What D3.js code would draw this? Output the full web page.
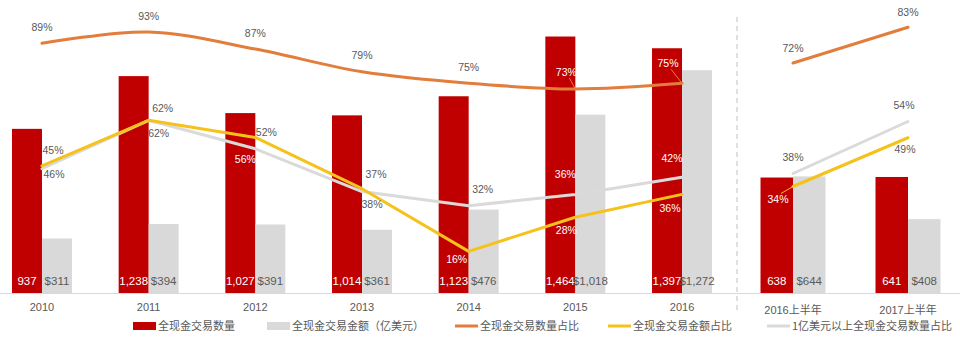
<!DOCTYPE html>
<html>
<head>
<meta charset="utf-8">
<script src="https://cdn.jsdelivr.net/npm/d3@7"></script>
<style>
  html, body { margin: 0; padding: 0; background: #fff; }
  svg { display: block; }
  text { font-family: "Liberation Sans", "Noto Sans CJK SC", sans-serif; }
</style>
</head>
<body>
<svg id="chart" width="960" height="337"></svg>
<script>
// ---- data ----
const yearsFull = ["2010", "2011", "2012", "2013", "2014", "2015", "2016"];
const yearsHalf = ["2016上半年", "2017上半年"];

const dealCountFull = [937, 1238, 1027, 1014, 1123, 1464, 1397];
const dealValueFull = [311, 394, 391, 361, 476, 1018, 1272];
const countShareFull = [89, 93, 87, 79, 75, 73, 75];
const valueShareFull = [46, 62, 56, 38, 16, 28, 36];
const bigDealShareFull = [45, 62, 52, 37, 32, 36, 42];

const dealCountHalf = [638, 641];
const dealValueHalf = [644, 408];
const countShareHalf = [72, 83];
const valueShareHalf = [34, 49];
const bigDealShareHalf = [38, 54];

const legendLabels = ["全现金交易数量", "全现金交易金额（亿美元）", "全现金交易数量占比", "全现金交易金额占比", "1亿美元以上全现金交易数量占比"];

// ---- label nudges (px from the point); third entry draws a leader line ----
const countNudgeFull = [[0,-16],[0,-16],[0,-16],[0,-17],[0,-16],[-9,-17,1],[-14,-20,1]];
const countNudgeHalf = [[0,-15],[0,-15]];
const bigNudgeFull = [[11,-18],[14,-12],[11,-16],[14,-17],[14,-16],[-10,-20],[-10,-19]];
const bigNudgeHalf = [[0,-16],[-4,-16]];
const valueNudgeFull = [[12,8],[10,13],[-10,22],[10,16],[-12,8],[-9,13],[-12,14]];
const valueNudgeHalf = [[-15,13,1],[-3,12]];

// ---- styling ----
const RED = "#C00000", GREY_BAR = "#D9D9D9", ORANGE = "#E27D3C", YELLOW = "#F5C21B", GREY_LINE = "#DADADA";
const TEXT = "#595959";
const baseY = 293;

const svg = d3.select("#chart");

function drawPanel(cfg) {
  const x = d3.scaleBand().domain(cfg.cats).range(cfg.xRange)
    .paddingInner(cfg.pad).paddingOuter(cfg.pad / 2);
  const yBar = d3.scaleLinear().domain([0, 1600]).range([baseY, cfg.barTop]);
  const yPct = d3.scaleLinear().domain([0, 100]).range([cfg.pctBase, cfg.pctTop]);
  const bw = x.bandwidth() / 2;
  const cx = c => x(c) + bw;
  const g = svg.append("g");

  // category axis
  const ax = g.append("g").attr("transform", `translate(0,${baseY})`)
    .call(d3.axisBottom(x).tickSize(0));
  ax.select(".domain").attr("stroke", "#D9D9D9");
  ax.selectAll("text").attr("y", cfg.tickY).attr("dy", "0.35em")
    .attr("fill", TEXT).style("font-size", "11px")
    .style("font-family", '"Liberation Sans", "Noto Sans CJK SC", sans-serif');

  // bars: deal count (red) and deal value (grey)
  g.selectAll(".rb").data(cfg.cats).join("rect")
    .attr("x", d => x(d)).attr("width", bw)
    .attr("y", (d, i) => yBar(cfg.count[i])).attr("height", (d, i) => baseY - yBar(cfg.count[i]))
    .attr("fill", RED);
  g.selectAll(".gb").data(cfg.cats).join("rect")
    .attr("x", d => x(d) + bw).attr("width", bw)
    .attr("y", (d, i) => yBar(cfg.value[i])).attr("height", (d, i) => baseY - yBar(cfg.value[i]))
    .attr("fill", GREY_BAR);

  // bar values along the bottom
  const fmt = d3.format(",");
  g.selectAll(".rv").data(cfg.cats).join("text")
    .attr("x", d => x(d) + bw / 2).attr("y", 281).attr("dy", "0.35em")
    .attr("text-anchor", "middle").attr("fill", "#fff").style("font-size", "11.5px")
    .text((d, i) => fmt(cfg.count[i]));
  g.selectAll(".gv").data(cfg.cats).join("text")
    .attr("x", d => x(d) + bw * 1.5).attr("y", 281).attr("dy", "0.35em")
    .attr("text-anchor", "middle").attr("fill", TEXT).style("font-size", "11.5px")
    .text((d, i) => "$" + fmt(cfg.value[i]));

  // share lines
  const series = [
    { vals: cfg.big, color: GREY_LINE, nudge: cfg.bigNudge, curve: d3.curveLinear },
    { vals: cfg.share, color: YELLOW, nudge: cfg.valueNudge, curve: d3.curveLinear },
    { vals: cfg.countShare, color: ORANGE, nudge: cfg.countNudge, curve: d3.curveCatmullRom.alpha(0.5) }
  ];
  series.forEach(s => {
    const line = d3.line().x((v, i) => cx(cfg.cats[i])).y(v => yPct(v)).curve(s.curve);
    g.append("path").datum(s.vals).attr("d", line)
      .attr("fill", "none").attr("stroke", s.color).attr("stroke-width", 3)
      .attr("stroke-linecap", "round").attr("stroke-linejoin", "round");
  });

  // percent labels, white when they sit on a red bar
  series.forEach(s => {
    s.vals.forEach((v, i) => {
      const px = cx(cfg.cats[i]), py = yPct(v);
      const [dx, dy, leader] = s.nudge[i];
      const lx = px + dx, ly = py + dy;
      const inRed = lx >= x(cfg.cats[i]) && lx <= x(cfg.cats[i]) + bw && ly > yBar(cfg.count[i]);
      if (leader) {
        g.append("line").attr("x1", lx + 3).attr("y1", ly + (dy < 0 ? 6 : -6))
          .attr("x2", px).attr("y2", py).attr("stroke", s.color).attr("stroke-width", 1);
      }
      g.append("text").attr("x", lx).attr("y", ly).attr("dy", "0.35em")
        .attr("text-anchor", "middle").attr("fill", inRed ? "#fff" : TEXT)
        .style("font-size", "10.5px").text(v + "%");
    });
  });
}

drawPanel({
  cats: yearsFull, xRange: [-11.35, 735.35], pad: 0.4375, barTop: 12.7,
  pctBase: 297, pctTop: 12, tickY: 14,
  count: dealCountFull, value: dealValueFull,
  countShare: countShareFull, share: valueShareFull, big: bigDealShareFull,
  countNudge: countNudgeFull, valueNudge: valueNudgeFull, bigNudge: bigNudgeFull
});
drawPanel({
  cats: yearsHalf, xRange: [735.5, 965.5], pad: 0.435, barTop: 3.4,
  pctBase: 297, pctTop: -28, tickY: 17,
  count: dealCountHalf, value: dealValueHalf,
  countShare: countShareHalf, share: valueShareHalf, big: bigDealShareHalf,
  countNudge: countNudgeHalf, valueNudge: valueNudgeHalf, bigNudge: bigNudgeHalf
});

// separator between the full-year and half-year panels
svg.append("line").attr("x1", 737).attr("x2", 737).attr("y1", 17).attr("y2", 313)
  .attr("stroke", "#BFBFBF").attr("stroke-width", 1).attr("stroke-dasharray", "5,4");

// legend
const legendX = [133, 267, 455, 608, 767];
const legendKind = ["rect", "rect", "line", "line", "line"];
const legendColor = [RED, GREY_BAR, ORANGE, YELLOW, GREY_LINE];
const lg = svg.append("g");
legendLabels.forEach((t, i) => {
  const x0 = legendX[i];
  if (legendKind[i] === "rect") {
    lg.append("rect").attr("x", x0).attr("y", 322).attr("width", 23).attr("height", 8).attr("fill", legendColor[i]);
  } else {
    lg.append("line").attr("x1", x0).attr("x2", x0 + 23).attr("y1", 326).attr("y2", 326)
      .attr("stroke", legendColor[i]).attr("stroke-width", 3);
  }
  lg.append("text").attr("x", x0 + 25).attr("y", 326).attr("dy", "0.35em")
    .attr("fill", TEXT).style("font-size", "11px")
    .style("font-family", '"Noto Sans CJK SC", sans-serif').text(t);
});
</script>
</body>
</html>
